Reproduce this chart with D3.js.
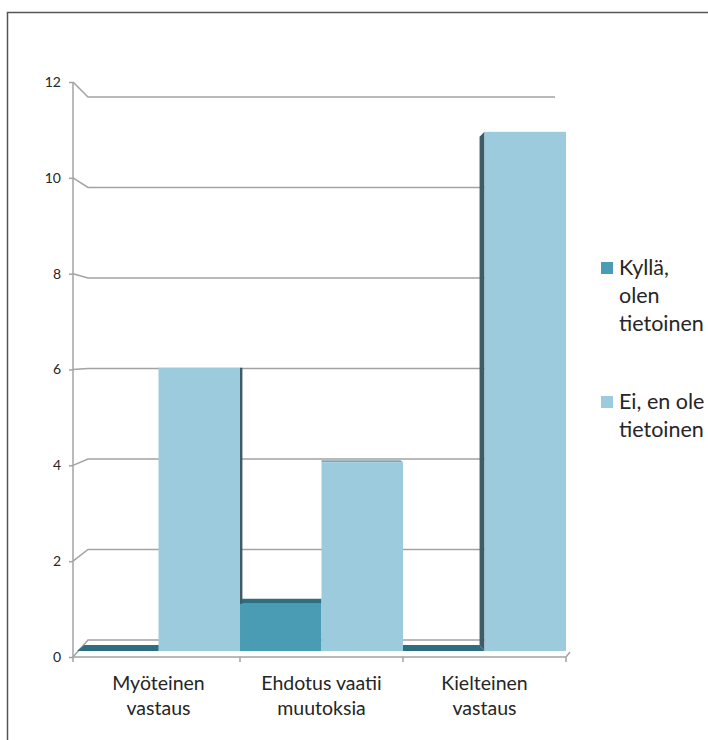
<!DOCTYPE html>
<html>
<head>
<meta charset="utf-8">
<script src="https://cdn.jsdelivr.net/npm/d3@7"></script>
<style>
  html, body { margin: 0; padding: 0; background: #fff; }
  svg { display: block; }
  text { font-family: Lato, "Open Sans", sans-serif; fill: #262626; }
</style>
</head>
<body>
<svg id="chart" width="708" height="740"></svg>
<script>
// Vastaukset luokittain ja tietoisuuden mukaan
const categories = ["Myöteinen vastaus", "Ehdotus vaatii muutoksia", "Kielteinen vastaus"];
const categoryLines = [["Myöteinen", "vastaus"], ["Ehdotus vaatii", "muutoksia"], ["Kielteinen", "vastaus"]];
const seriesNames = ["Kyllä, olen tietoinen", "Ei, en ole tietoinen"];
const legendLines = [["Kyllä,", "olen", "tietoinen"], ["Ei, en ole", "tietoinen"]];
const kyllaValues = [0, 1, 0];
const eiValues = [6, 4, 11];
const yTicks = [0, 2, 4, 6, 8, 10, 12];

const palette = {
  face: ["#4a9cb5", "#9dcbde"],
  top:  ["#2d6e80", "#7fa6b5"],
  side: ["#2f5d6a", "#3e5b66"]
};

const svg = d3.select("#chart");

// Outer frame
svg.append("path")
  .attr("d", "M7.5,745 V12.5 H715")
  .attr("fill", "none").attr("stroke", "#555").attr("stroke-width", 1.5);

// Scales: front plane for the value axis, back wall for gridlines, bar plane
const yFront = d3.scaleLinear().domain([0, 12]).range([657, 82]);
const yBack  = d3.scaleLinear().domain([0, 12]).range([640, 97]);
const yBar   = d3.scaleLinear().domain([0, 12]).range([651, 84.6]);
const x = d3.scaleBand().domain(categories).range([77, 566]).padding(0);
const xs = d3.scaleBand().domain(seriesNames).range([0, x.bandwidth()]).padding(0);

const axisX = 73, wallX = 88, wallEnd = 555;
const vanishX = 320, shrink = 0.97, horizon = 6, depthK = 1.0;
const grid = "#a3a3a3";

// Back-wall gridlines with their perspective link to the axis
const gridG = svg.append("g");
yTicks.forEach(v => {
  gridG.append("path")
    .attr("d", `M${axisX},${yFront(v)} L${wallX},${yBack(v)} H${wallEnd}`)
    .attr("fill", "none").attr("stroke", grid).attr("stroke-width", 1.5);
});

// Value axis
const yAxis = d3.axisLeft(yFront).tickValues(yTicks).tickSize(4).tickPadding(8);
const yG = svg.append("g").attr("transform", `translate(${axisX},0)`).call(yAxis);
yG.select(".domain").attr("stroke", grid).attr("stroke-width", 1.5).attr("d", `M0,${yFront(12)}V${yFront(0)}`);
yG.selectAll(".tick line").attr("stroke", grid).attr("stroke-width", 1.5);
yG.selectAll(".tick text").style("font-size", "14px").style("font-family", "Lato, sans-serif").attr("fill", "#262626");

// Build bar records
const bars = [];
categories.forEach((c, i) => {
  [kyllaValues[i], eiValues[i]].forEach((v, s) => {
    const x0 = x(c) + xs(seriesNames[s]);
    const x1 = x0 + xs.bandwidth();
    bars.push({ c, s, v, x0, x1 });
  });
});
const back = xx => vanishX + (xx - vanishX) * shrink;
const depth = v => (horizon - v) * depthK;

const barG = svg.append("g");
// Top faces (visible below the horizon)
bars.forEach(b => {
  const yt = yBar(b.v), d = depth(b.v);
  if (d <= 0.3) return;
  barG.append("polygon")
    .attr("points", [[b.x0, yt], [b.x1, yt], [back(b.x1), yt - d], [back(b.x0), yt - d]].map(p => p.join(",")).join(" "))
    .attr("fill", palette.top[b.s]);
});
// Side faces facing the vanishing point
bars.forEach(b => {
  if (b.v <= 0) return;
  const yt = yBar(b.v), yb = yBar(0);
  const cx = (b.x0 + b.x1) / 2;
  const edge = cx < vanishX ? b.x1 : b.x0;
  const be = back(edge);
  if (Math.abs(be - edge) < 1) return;
  barG.append("polygon")
    .attr("points", [[edge, yt], [be, yt - depth(b.v)], [be, yb - depth(0)], [edge, yb]].map(p => p.join(",")).join(" "))
    .attr("fill", palette.side[b.s]);
});
// Front faces
bars.forEach(b => {
  if (b.v <= 0) return;
  barG.append("rect")
    .attr("x", b.x0).attr("y", yBar(b.v))
    .attr("width", b.x1 - b.x0).attr("height", yBar(0) - yBar(b.v))
    .attr("fill", palette.face[b.s]);
});

// Category axis
const baseY = yFront(0);
const catG = svg.append("g");
catG.append("path")
  .attr("d", `M${axisX},${baseY} H${x.range()[1]} L${x.range()[1] + 4},${baseY - 5}`)
  .attr("fill", "none").attr("stroke", grid).attr("stroke-width", 1.5);
const edges = [axisX].concat(categories.slice(1).map(c => x(c)), [x.range()[1]]);
edges.forEach(e => {
  catG.append("line").attr("x1", e).attr("x2", e).attr("y1", baseY).attr("y2", baseY + 5)
    .attr("stroke", grid).attr("stroke-width", 1.5);
});
categories.forEach((c, i) => {
  const cx = x(c) + x.bandwidth() / 2;
  const t = catG.append("text")
    .attr("x", cx).attr("y", 690)
    .attr("text-anchor", "middle").style("font-size", "19.5px");
  categoryLines[i].forEach((ln, k) => {
    t.append("tspan").attr("x", cx).attr("dy", k === 0 ? 0 : 25).text(ln);
  });
});

// Legend
const legend = svg.append("g");
const legendTop = [275, 409];
seriesNames.forEach((name, s) => {
  legend.append("rect")
    .attr("x", 601).attr("y", legendTop[s] - 13).attr("width", 12).attr("height", 12)
    .attr("fill", palette.face[s]);
  const t = legend.append("text").attr("x", 619).attr("y", legendTop[s]).style("font-size", "21.5px");
  legendLines[s].forEach((ln, k) => {
    t.append("tspan").attr("x", 619).attr("dy", k === 0 ? 0 : 28).text(ln);
  });
});
</script>
</body>
</html>
